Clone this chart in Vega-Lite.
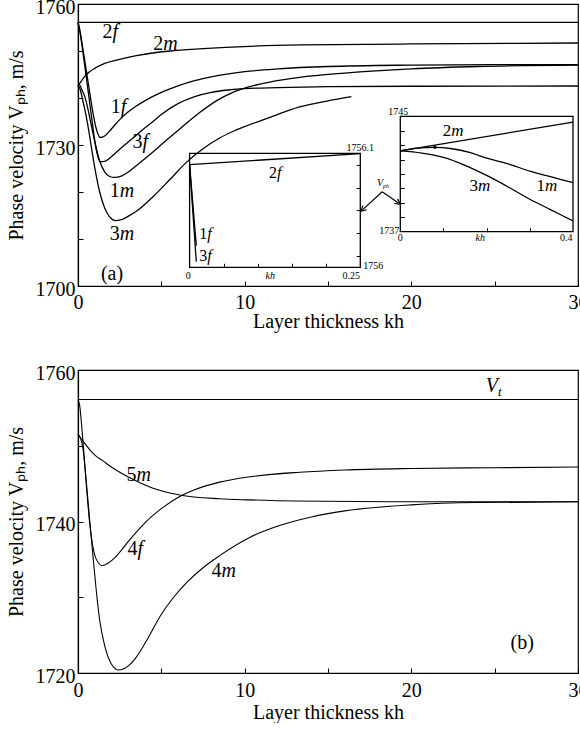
{
  "$schema": "https://vega.github.io/schema/vega-lite/v6.json",
  "padding": {"left": 5, "top": -4, "right": 0, "bottom": 0},
  "config": {
    "font": "Liberation Serif",
    "view": {"stroke": "black", "strokeWidth": 1.2},
    "axis": {"grid": false, "domainColor": "black", "tickColor": "black", "labelColor": "black", "titleColor": "black",
      "labelFont": "Liberation Serif", "titleFont": "Liberation Serif", "labelFontSize": 20, "titleFontSize": 20,
      "titleFontWeight": "normal", "labelFlush": false, "labelOverlap": false, "domainWidth": 1.2, "tickWidth": 1, "format": "d"}
  },
  "datasets": {
    "a": [
      {"s":"2f","kh":0,"v":1756.1},{"s":"2f","kh":30,"v":1756.1},
      {"s":"1f","kh":0,"v":1756.1},{"s":"1f","kh":0.1,"v":1754.6},{"s":"1f","kh":0.3,"v":1750.3},{"s":"1f","kh":0.5,"v":1745.8},{"s":"1f","kh":0.7,"v":1741.2},{"s":"1f","kh":0.9,"v":1736.8},{"s":"1f","kh":1.1,"v":1733.4},{"s":"1f","kh":1.34,"v":1731.6},{"s":"1f","kh":1.6,"v":1731.9},{"s":"1f","kh":2.0,"v":1733.4},{"s":"1f","kh":2.5,"v":1735.4},{"s":"1f","kh":3.0,"v":1737.0},{"s":"1f","kh":3.5,"v":1738.3},{"s":"1f","kh":4.0,"v":1739.4},{"s":"1f","kh":5.0,"v":1741.2},{"s":"1f","kh":6.0,"v":1742.6},{"s":"1f","kh":7.0,"v":1743.7},{"s":"1f","kh":8.0,"v":1744.5},{"s":"1f","kh":10.0,"v":1745.6},{"s":"1f","kh":12.0,"v":1746.2},{"s":"1f","kh":15.0,"v":1746.7},{"s":"1f","kh":20.0,"v":1747.0},{"s":"1f","kh":25.0,"v":1747.1},{"s":"1f","kh":30.0,"v":1747.1},
      {"s":"3f","kh":0,"v":1756.1},{"s":"3f","kh":0.1,"v":1754.4},{"s":"3f","kh":0.3,"v":1749.6},{"s":"3f","kh":0.5,"v":1744.4},{"s":"3f","kh":0.7,"v":1739.0},{"s":"3f","kh":0.9,"v":1733.6},{"s":"3f","kh":1.1,"v":1728.9},{"s":"3f","kh":1.34,"v":1726.4},{"s":"3f","kh":1.6,"v":1726.5},{"s":"3f","kh":2.0,"v":1727.5},{"s":"3f","kh":2.5,"v":1729.1},{"s":"3f","kh":3.0,"v":1730.6},{"s":"3f","kh":3.5,"v":1732.1},{"s":"3f","kh":4.0,"v":1733.6},{"s":"3f","kh":4.5,"v":1735.0},{"s":"3f","kh":5.0,"v":1736.5},{"s":"3f","kh":6.0,"v":1738.8},{"s":"3f","kh":7.0,"v":1740.3},{"s":"3f","kh":8.0,"v":1741.2},{"s":"3f","kh":9.0,"v":1741.7},{"s":"3f","kh":10.0,"v":1742.0},{"s":"3f","kh":12.0,"v":1742.2},{"s":"3f","kh":15.0,"v":1742.4},{"s":"3f","kh":20.0,"v":1742.5},{"s":"3f","kh":30.0,"v":1742.55},
      {"s":"1m","kh":0,"v":1742.6},{"s":"1m","kh":0.08,"v":1742.85},{"s":"1m","kh":0.2,"v":1742.0},{"s":"1m","kh":0.3,"v":1741.2},{"s":"1m","kh":0.4,"v":1740.4},{"s":"1m","kh":0.6,"v":1737.6},{"s":"1m","kh":0.8,"v":1734.2},{"s":"1m","kh":1.0,"v":1730.8},{"s":"1m","kh":1.3,"v":1726.6},{"s":"1m","kh":1.6,"v":1724.3},{"s":"1m","kh":1.9,"v":1723.3},{"s":"1m","kh":2.2,"v":1723.1},{"s":"1m","kh":2.6,"v":1723.4},{"s":"1m","kh":3.0,"v":1724.2},{"s":"1m","kh":3.5,"v":1725.6},{"s":"1m","kh":4.3,"v":1727.9},{"s":"1m","kh":5.3,"v":1731.0},{"s":"1m","kh":6.3,"v":1734.0},{"s":"1m","kh":7.3,"v":1736.9},{"s":"1m","kh":8.3,"v":1739.4},{"s":"1m","kh":9.3,"v":1741.2},{"s":"1m","kh":10.3,"v":1742.4},{"s":"1m","kh":11.5,"v":1743.4},{"s":"1m","kh":13.3,"v":1744.4},{"s":"1m","kh":16.0,"v":1745.3},{"s":"1m","kh":20.0,"v":1746.2},{"s":"1m","kh":24.0,"v":1746.7},{"s":"1m","kh":30.0,"v":1747.0},
      {"s":"3m","kh":0,"v":1742.6},{"s":"3m","kh":0.1,"v":1742.15},{"s":"3m","kh":0.2,"v":1740.9},{"s":"3m","kh":0.3,"v":1739.25},{"s":"3m","kh":0.4,"v":1737.75},{"s":"3m","kh":0.6,"v":1734.0},{"s":"3m","kh":0.8,"v":1729.6},{"s":"3m","kh":1.0,"v":1725.3},{"s":"3m","kh":1.3,"v":1720.0},{"s":"3m","kh":1.6,"v":1716.6},{"s":"3m","kh":1.9,"v":1714.7},{"s":"3m","kh":2.25,"v":1713.9},{"s":"3m","kh":2.6,"v":1714.1},{"s":"3m","kh":3.0,"v":1714.8},{"s":"3m","kh":3.5,"v":1715.9},{"s":"3m","kh":4.5,"v":1719.0},{"s":"3m","kh":5.5,"v":1722.6},{"s":"3m","kh":6.5,"v":1726.3},{"s":"3m","kh":7.5,"v":1729.2},{"s":"3m","kh":8.5,"v":1731.5},{"s":"3m","kh":9.5,"v":1733.2},{"s":"3m","kh":11.3,"v":1735.6},{"s":"3m","kh":13.3,"v":1738.1},{"s":"3m","kh":15.0,"v":1739.4},{"s":"3m","kh":16.4,"v":1740.3},
      {"s":"2m","kh":0,"v":1742.6},{"s":"2m","kh":0.1,"v":1743.1},{"s":"2m","kh":0.2,"v":1743.6},{"s":"2m","kh":0.3,"v":1744.1},{"s":"2m","kh":0.4,"v":1744.6},{"s":"2m","kh":0.7,"v":1745.6},{"s":"2m","kh":1.0,"v":1746.3},{"s":"2m","kh":1.5,"v":1747.2},{"s":"2m","kh":2.5,"v":1748.2},{"s":"2m","kh":3.5,"v":1749.0},{"s":"2m","kh":5.5,"v":1750.0},{"s":"2m","kh":7.5,"v":1750.5},{"s":"2m","kh":10.3,"v":1751.0},{"s":"2m","kh":13.4,"v":1751.3},{"s":"2m","kh":20.0,"v":1751.5},{"s":"2m","kh":30.0,"v":1751.7}
    ],
    "alab": [
      {"num":"2","let":"f","kh":2.07,"v":1754.0},
      {"num":"2","let":"m","kh":5.11,"v":1751.5},
      {"num":"1","let":"f","kh":2.57,"v":1738.0},
      {"num":"3","let":"f","kh":3.87,"v":1730.7},
      {"num":"1","let":"m","kh":2.51,"v":1720.3},
      {"num":"3","let":"m","kh":2.51,"v":1711.1}
    ],
    "i1": [
      {"s":"2f","kh":0,"v":1756.09},{"s":"2f","kh":0.25,"v":1756.0998},
      {"s":"1f","kh":0,"v":1756.09},{"s":"1f","kh":0.0098,"v":1756.019},
      {"s":"3f","kh":0,"v":1756.09},{"s":"3f","kh":0.0098,"v":1756.005}
    ],
    "i1lab": [
      {"num":"2","let":"f","kh":0.128,"v":1756.083},
      {"num":"1","let":"f","kh":0.026,"v":1756.029},
      {"num":"3","let":"f","kh":0.026,"v":1756.0096}
    ],
    "i1tick": [
      {"t":"1756.1","kh":0.25,"v":1756.1047},
      {"t":"1756","kh":0.2689,"v":1756.0011},
      {"t":"0","kh":-0.0019,"v":1755.9924},
      {"t":"0.25","kh":0.2368,"v":1755.9924}
    ],
    "i2": [
      {"s":"2m","kh":0,"v":1742.6},{"s":"2m","kh":0.4,"v":1744.6},
      {"s":"1m","kh":0,"v":1742.6},{"s":"1m","kh":0.04,"v":1742.8},{"s":"1m","kh":0.08,"v":1742.85},{"s":"1m","kh":0.12,"v":1742.75},{"s":"1m","kh":0.16,"v":1742.5},{"s":"1m","kh":0.2,"v":1742.1},{"s":"1m","kh":0.25,"v":1741.7},{"s":"1m","kh":0.3,"v":1741.2},{"s":"1m","kh":0.35,"v":1740.8},{"s":"1m","kh":0.4,"v":1740.4},
      {"s":"3m","kh":0,"v":1742.6},{"s":"3m","kh":0.05,"v":1742.45},{"s":"3m","kh":0.1,"v":1742.15},{"s":"3m","kh":0.15,"v":1741.6},{"s":"3m","kh":0.2,"v":1740.9},{"s":"3m","kh":0.25,"v":1740.1},{"s":"3m","kh":0.3,"v":1739.25},{"s":"3m","kh":0.35,"v":1738.5},{"s":"3m","kh":0.4,"v":1737.75}
    ],
    "i2lab": [
      {"num":"2","let":"m","kh":0.118,"v":1743.95},
      {"num":"3","let":"m","kh":0.18,"v":1740.19},
      {"num":"1","let":"m","kh":0.335,"v":1740.19}
    ],
    "i2tick": [
      {"t":"1745","kh":-0.0046,"v":1745.3},
      {"t":"1737","kh":-0.0255,"v":1737.05},
      {"t":"0","kh":0,"v":1736.56},
      {"t":"0.4","kh":0.3845,"v":1736.56}
    ],
    "b": [
      {"s":"Vt","kh":0,"v":1756.1},{"s":"Vt","kh":30,"v":1756.1},
      {"s":"4f","kh":0,"v":1756.1},{"s":"4f","kh":0.1,"v":1755.3},{"s":"4f","kh":0.3,"v":1750.5},{"s":"4f","kh":0.5,"v":1744.8},{"s":"4f","kh":0.7,"v":1739.8},{"s":"4f","kh":0.9,"v":1736.6},{"s":"4f","kh":1.1,"v":1735.0},{"s":"4f","kh":1.44,"v":1734.2},{"s":"4f","kh":1.8,"v":1734.5},{"s":"4f","kh":2.2,"v":1735.2},{"s":"4f","kh":2.6,"v":1736.2},{"s":"4f","kh":3.0,"v":1737.3},{"s":"4f","kh":3.5,"v":1738.6},{"s":"4f","kh":4.0,"v":1739.8},{"s":"4f","kh":5.0,"v":1741.7},{"s":"4f","kh":6.1,"v":1743.3},{"s":"4f","kh":7.0,"v":1744.2},{"s":"4f","kh":8.5,"v":1745.2},{"s":"4f","kh":10.3,"v":1745.9},{"s":"4f","kh":13.3,"v":1746.5},{"s":"4f","kh":16.0,"v":1746.8},{"s":"4f","kh":20.0,"v":1747.0},{"s":"4f","kh":25.0,"v":1747.1},{"s":"4f","kh":30.0,"v":1747.2},
      {"s":"4m","kh":0,"v":1751.5},{"s":"4m","kh":0.15,"v":1751.0},{"s":"4m","kh":0.3,"v":1749.6},{"s":"4m","kh":0.5,"v":1745.2},{"s":"4m","kh":0.7,"v":1740.2},{"s":"4m","kh":0.9,"v":1735.4},{"s":"4m","kh":1.1,"v":1730.8},{"s":"4m","kh":1.3,"v":1727.0},{"s":"4m","kh":1.6,"v":1723.6},{"s":"4m","kh":2.0,"v":1721.2},{"s":"4m","kh":2.44,"v":1720.4},{"s":"4m","kh":3.0,"v":1720.9},{"s":"4m","kh":3.5,"v":1722.1},{"s":"4m","kh":4.2,"v":1724.6},{"s":"4m","kh":4.9,"v":1727.4},{"s":"4m","kh":5.7,"v":1729.9},{"s":"4m","kh":6.5,"v":1731.9},{"s":"4m","kh":7.5,"v":1733.9},{"s":"4m","kh":8.5,"v":1735.5},{"s":"4m","kh":10.3,"v":1737.9},{"s":"4m","kh":12.0,"v":1739.4},{"s":"4m","kh":14.0,"v":1740.6},{"s":"4m","kh":16.0,"v":1741.4},{"s":"4m","kh":20.0,"v":1742.2},{"s":"4m","kh":24.0,"v":1742.5},{"s":"4m","kh":30.0,"v":1742.6},
      {"s":"5m","kh":0,"v":1751.5},{"s":"5m","kh":0.3,"v":1750.6},{"s":"5m","kh":0.7,"v":1749.5},{"s":"5m","kh":1.0,"v":1748.8},{"s":"5m","kh":1.5,"v":1748.0},{"s":"5m","kh":2.0,"v":1747.2},{"s":"5m","kh":3.0,"v":1745.9},{"s":"5m","kh":4.5,"v":1744.4},{"s":"5m","kh":6.1,"v":1743.5},{"s":"5m","kh":8.5,"v":1743.0},{"s":"5m","kh":10.3,"v":1742.85},{"s":"5m","kh":13.0,"v":1742.7},{"s":"5m","kh":20.0,"v":1742.6},{"s":"5m","kh":30.0,"v":1742.6}
    ],
    "blab": [
      {"num":"5","let":"m","kh":3.51,"v":1746.1},
      {"num":"4","let":"f","kh":3.57,"v":1736.35},
      {"num":"4","let":"m","kh":8.61,"v":1733.5}
    ]
  },
  "spacing": 84,
  "bounds": "flush",
  "vconcat": [
    {
      "width": 500, "height": 282,
      "resolve": {"scale": {"x": "independent", "y": "independent"}},
      "layer": [
        {
          "layer": [
            {"data": {"name": "a"}, "mark": {"type": "line", "interpolate": "monotone", "color": "black", "strokeWidth": 1.3},
             "encoding": {
               "x": {"field": "kh", "type": "quantitative", "scale": {"domain": [0, 30], "nice": false, "zero": false},
                     "axis": {"orient": "bottom", "values": [0,5,10,15,20,25,30], "labelExpr": "datum.value % 10 === 0 ? datum.label : ''", "tickSize": -5, "labelPadding": 11, "title": "Layer thickness kh", "titlePadding": -1}},
               "y": {"field": "v", "type": "quantitative", "scale": {"domain": [1700, 1760], "nice": false, "zero": false},
                     "axis": {"orient": "left", "values": [1700,1705,1710,1715,1720,1725,1730,1735,1740,1745,1750,1755,1760], "labelExpr": "(datum.value - 1700) % 30 === 0 ? datum.label : ''", "tickSize": -5, "labelPadding": 8, "labelOffset": 3, "title": "Phase velocity Vₚₕ, m/s", "titlePadding": 9}},
               "detail": {"field": "s"}}},
            {"data": {"name": "alab"}, "mark": {"type": "text", "align": "right", "baseline": "middle", "fontSize": 20, "font": "Liberation Serif"},
             "encoding": {"x": {"field": "kh", "type": "quantitative"}, "y": {"field": "v", "type": "quantitative"}, "text": {"field": "num"}}},
            {"data": {"name": "alab"}, "mark": {"type": "text", "align": "left", "baseline": "middle", "fontSize": 20, "fontStyle": "italic", "font": "Liberation Serif"},
             "encoding": {"x": {"field": "kh", "type": "quantitative"}, "y": {"field": "v", "type": "quantitative"}, "text": {"field": "let"}}},
            {"data": {"values": [{"t": "(a)", "kh": 2.04, "v": 1702.6}]}, "mark": {"type": "text", "fontSize": 20, "baseline": "middle", "font": "Liberation Serif"},
             "encoding": {"x": {"field": "kh", "type": "quantitative"}, "y": {"field": "v", "type": "quantitative"}, "text": {"field": "t"}}},
            {"data": {"values": [{"kh": 18.25, "v": 1720.06, "kh2": 17.07, "v2": 1716.2}, {"kh": 18.25, "v": 1720.06, "kh2": 19.23, "v2": 1717.66}]},
             "mark": {"type": "rule", "color": "black", "strokeWidth": 1.2},
             "encoding": {"x": {"field": "kh", "type": "quantitative"}, "y": {"field": "v", "type": "quantitative"}, "x2": {"field": "kh2"}, "y2": {"field": "v2"}}},
            {"data": {"values": [{"kh": 17.07, "v": 1716.2}]}, "mark": {"type": "point", "shape": "M -0.8 0.9 L 0 -0.6 L 0.8 0.9", "filled": false, "color": "black", "strokeWidth": 1.2, "size": 50, "angle": 227, "opacity": 1},
             "encoding": {"x": {"field": "kh", "type": "quantitative"}, "y": {"field": "v", "type": "quantitative"}}},
            {"data": {"values": [{"kh": 19.23, "v": 1717.66}]}, "mark": {"type": "point", "shape": "M -0.8 0.9 L 0 -0.6 L 0.8 0.9", "filled": false, "color": "black", "strokeWidth": 1.2, "size": 50, "angle": 125, "opacity": 1},
             "encoding": {"x": {"field": "kh", "type": "quantitative"}, "y": {"field": "v", "type": "quantitative"}}},
            {"data": {"values": [{"t": "V", "kh": 18.3, "v": 1722.0}]}, "mark": {"type": "text", "align": "right", "baseline": "middle", "fontSize": 10, "fontStyle": "italic", "font": "Liberation Serif"},
             "encoding": {"x": {"field": "kh", "type": "quantitative"}, "y": {"field": "v", "type": "quantitative"}, "text": {"field": "t"}}},
            {"data": {"values": [{"t": "ph", "kh": 18.3, "v": 1722.0}]}, "mark": {"type": "text", "align": "left", "baseline": "middle", "dy": 3, "fontSize": 6, "fontStyle": "italic", "font": "Liberation Serif"},
             "encoding": {"x": {"field": "kh", "type": "quantitative"}, "y": {"field": "v", "type": "quantitative"}, "text": {"field": "t"}}}
          ]
        },
        {
          "layer": [
            {"data": {"values": [{"kh": 0, "kh2": 0.25, "v": 1756, "v2": 1756.1}]}, "mark": {"type": "rect", "filled": false, "stroke": "black", "strokeWidth": 1.3},
             "encoding": {
               "x": {"field": "kh", "type": "quantitative", "scale": {"domain": [0, 0.25], "range": [111.6, 282.3], "nice": false, "zero": false},
                     "axis": {"orient": "bottom", "offset": -18.7, "values": [0.05, 0.1, 0.15, 0.2], "labels": false, "domain": false, "tickSize": -4, "title": null}},
               "x2": {"field": "kh2"},
               "y": {"field": "v", "type": "quantitative", "scale": {"domain": [1756, 1756.1], "range": [263.3, 149.3], "nice": false, "zero": false},
                     "axis": {"orient": "right", "offset": -217.7, "values": [1756.01,1756.02,1756.03,1756.04,1756.05,1756.06,1756.07,1756.08,1756.09], "labels": false, "domain": false, "tickSize": -4, "title": null}},
               "y2": {"field": "v2"}}},
            {"data": {"name": "i1"}, "mark": {"type": "line", "color": "black", "strokeWidth": 1.3},
             "encoding": {"x": {"field": "kh", "type": "quantitative"}, "y": {"field": "v", "type": "quantitative"}, "detail": {"field": "s"}}},
            {"data": {"name": "i1lab"}, "mark": {"type": "text", "align": "right", "baseline": "middle", "fontSize": 16, "font": "Liberation Serif"},
             "encoding": {"x": {"field": "kh", "type": "quantitative"}, "y": {"field": "v", "type": "quantitative"}, "text": {"field": "num"}}},
            {"data": {"name": "i1lab"}, "mark": {"type": "text", "align": "left", "baseline": "middle", "fontSize": 16, "fontStyle": "italic", "font": "Liberation Serif"},
             "encoding": {"x": {"field": "kh", "type": "quantitative"}, "y": {"field": "v", "type": "quantitative"}, "text": {"field": "let"}}},
            {"data": {"name": "i1tick"}, "mark": {"type": "text", "align": "center", "baseline": "middle", "fontSize": 10, "font": "Liberation Serif"},
             "encoding": {"x": {"field": "kh", "type": "quantitative"}, "y": {"field": "v", "type": "quantitative"}, "text": {"field": "t"}}},
            {"data": {"values": [{"t": "kh", "kh": 0.1182, "v": 1755.9924}]}, "mark": {"type": "text", "align": "center", "baseline": "middle", "fontSize": 10, "fontStyle": "italic", "font": "Liberation Serif"},
             "encoding": {"x": {"field": "kh", "type": "quantitative"}, "y": {"field": "v", "type": "quantitative"}, "text": {"field": "t"}}}
          ]
        },
        {
          "layer": [
            {"data": {"values": [{"kh": 0, "kh2": 0.4, "v": 1737, "v2": 1745}]}, "mark": {"type": "rect", "filled": false, "stroke": "black", "strokeWidth": 1.3},
             "encoding": {
               "x": {"field": "kh", "type": "quantitative", "scale": {"domain": [0, 0.4], "range": [322.3, 495], "nice": false, "zero": false},
                     "axis": {"orient": "bottom", "offset": -54.3, "values": [0.1, 0.2, 0.3], "labels": false, "domain": false, "tickSize": -4, "title": null}},
               "x2": {"field": "kh2"},
               "y": {"field": "v", "type": "quantitative", "scale": {"domain": [1737, 1745], "range": [227.7, 112.3], "nice": false, "zero": false},
                     "axis": {"orient": "left", "offset": -322.3, "values": [1738,1739,1740,1741,1742,1743,1744], "labels": false, "domain": false, "tickSize": -4, "title": null}},
               "y2": {"field": "v2"}}},
            {"data": {"name": "i2"}, "mark": {"type": "line", "interpolate": "monotone", "color": "black", "strokeWidth": 1.3},
             "encoding": {"x": {"field": "kh", "type": "quantitative"}, "y": {"field": "v", "type": "quantitative"}, "detail": {"field": "s"}}},
            {"data": {"values": [{"kh": 0.08, "v": 1742.85}]}, "mark": {"type": "point", "filled": true, "color": "black", "size": 12, "opacity": 1},
             "encoding": {"x": {"field": "kh", "type": "quantitative"}, "y": {"field": "v", "type": "quantitative"}}},
            {"data": {"name": "i2lab"}, "mark": {"type": "text", "align": "right", "baseline": "middle", "fontSize": 17, "font": "Liberation Serif"},
             "encoding": {"x": {"field": "kh", "type": "quantitative"}, "y": {"field": "v", "type": "quantitative"}, "text": {"field": "num"}}},
            {"data": {"name": "i2lab"}, "mark": {"type": "text", "align": "left", "baseline": "middle", "fontSize": 17, "fontStyle": "italic", "font": "Liberation Serif"},
             "encoding": {"x": {"field": "kh", "type": "quantitative"}, "y": {"field": "v", "type": "quantitative"}, "text": {"field": "let"}}},
            {"data": {"name": "i2tick"}, "mark": {"type": "text", "align": "center", "baseline": "middle", "fontSize": 10, "font": "Liberation Serif"},
             "encoding": {"x": {"field": "kh", "type": "quantitative"}, "y": {"field": "v", "type": "quantitative"}, "text": {"field": "t"}}},
            {"data": {"values": [{"t": "kh", "kh": 0.185, "v": 1736.56}]}, "mark": {"type": "text", "align": "center", "baseline": "middle", "fontSize": 10, "fontStyle": "italic", "font": "Liberation Serif"},
             "encoding": {"x": {"field": "kh", "type": "quantitative"}, "y": {"field": "v", "type": "quantitative"}, "text": {"field": "t"}}}
          ]
        }
      ]
    },
    {
      "width": 500, "height": 303,
      "layer": [
        {"data": {"name": "b"}, "mark": {"type": "line", "interpolate": "monotone", "color": "black", "strokeWidth": 1.1},
         "encoding": {
           "x": {"field": "kh", "type": "quantitative", "scale": {"domain": [0, 30], "nice": false, "zero": false},
                 "axis": {"orient": "bottom", "values": [0,5,10,15,20,25,30], "labelExpr": "datum.value % 10 === 0 ? datum.label : ''", "tickSize": -5, "labelPadding": 12, "title": "Layer thickness kh", "titlePadding": 2}},
           "y": {"field": "v", "type": "quantitative", "scale": {"domain": [1720, 1760], "nice": false, "zero": false},
                 "axis": {"orient": "left", "values": [1720,1725,1730,1735,1740,1745,1750,1755,1760], "labelExpr": "datum.value % 20 === 0 ? datum.label : ''", "tickSize": -5, "labelPadding": 8, "labelOffset": 3, "title": "Phase velocity Vₚₕ, m/s", "titlePadding": 9}},
           "detail": {"field": "s"}}},
        {"data": {"name": "blab"}, "mark": {"type": "text", "align": "right", "baseline": "middle", "fontSize": 20, "font": "Liberation Serif"},
         "encoding": {"x": {"field": "kh", "type": "quantitative"}, "y": {"field": "v", "type": "quantitative"}, "text": {"field": "num"}}},
        {"data": {"name": "blab"}, "mark": {"type": "text", "align": "left", "baseline": "middle", "fontSize": 20, "fontStyle": "italic", "font": "Liberation Serif"},
         "encoding": {"x": {"field": "kh", "type": "quantitative"}, "y": {"field": "v", "type": "quantitative"}, "text": {"field": "let"}}},
        {"data": {"values": [{"t": "(b)", "kh": 26.65, "v": 1724.0}]}, "mark": {"type": "text", "fontSize": 20, "baseline": "middle", "font": "Liberation Serif"},
         "encoding": {"x": {"field": "kh", "type": "quantitative"}, "y": {"field": "v", "type": "quantitative"}, "text": {"field": "t"}}},
        {"data": {"values": [{"t": "V", "kh": 25.2, "v": 1757.9}]}, "mark": {"type": "text", "align": "right", "baseline": "middle", "fontSize": 20, "fontStyle": "italic", "font": "Liberation Serif"},
         "encoding": {"x": {"field": "kh", "type": "quantitative"}, "y": {"field": "v", "type": "quantitative"}, "text": {"field": "t"}}},
        {"data": {"values": [{"t": "t", "kh": 25.2, "v": 1757.9}]}, "mark": {"type": "text", "align": "left", "baseline": "middle", "dy": 6, "fontSize": 13, "fontStyle": "italic", "font": "Liberation Serif"},
         "encoding": {"x": {"field": "kh", "type": "quantitative"}, "y": {"field": "v", "type": "quantitative"}, "text": {"field": "t"}}}
      ]
    }
  ]
}
